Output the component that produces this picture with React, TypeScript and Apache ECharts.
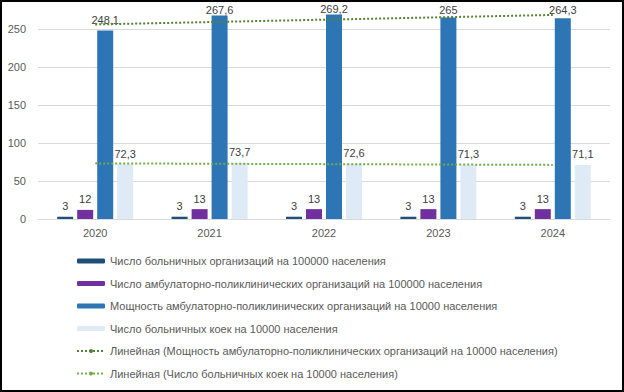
import React, { useEffect, useRef } from "react";
import * as echarts from "echarts";

const years = ["2020", "2021", "2022", "2023", "2024"];
const hospitalOrgs = [3, 3, 3, 3, 3];
const outpatientOrgs = [12, 13, 13, 13, 13];
const outpatientCapacity = [248.1, 267.6, 269.2, 265, 264.3];
const hospitalBeds = [72.3, 73.7, 72.6, 71.3, 71.1];
// trendline endpoints
const capacityTrend: [string, number][] = [["2020", 256], ["2024", 268.5]];
const bedsTrend: [string, number][] = [["2020", 73.2], ["2024", 71.2]];
const yTicks = { min: 0, max: 280, interval: 50 };

const names = [
  "Число больничных организаций на 100000 населения",
  "Число амбулаторно-поликлинических организаций на 100000 населения",
  "Мощность амбулаторно-поликлинических организаций на 10000 населения",
  "Число больничных коек на 10000 населения",
  "Линейная (Мощность амбулаторно-поликлинических организаций на 10000 населения)",
  "Линейная (Число больничных коек на 10000 населения)",
];

const FONT = "Liberation Sans";
const GRID_BOTTOM_Y = 219;
const PX_PER_UNIT = 0.76;

export default function App() {
  const ref = useRef<HTMLDivElement>(null);
  useEffect(() => {
    document.body.style.margin = "0";
    const chart = echarts.init(ref.current!, null, { renderer: "svg" });
    const label = {
      show: true,
      position: "top" as const,
      distance: 5,
      color: "#404040",
      fontSize: 11,
      fontFamily: FONT,
      formatter: (p: any) => String(p.value).replace(".", ","),
    };
    // keep labels inside the chart area as the reference does (labels clamped near the top edge)
    const withClampedLabels = (data: number[]) =>
      data.map((v) => {
        const topPx = GRID_BOTTOM_Y - v * PX_PER_UNIT;
        const distance = Math.max(0, Math.min(5, topPx - 15.5));
        return { value: v, label: { distance } };
      });
    const bar = (name: string, data: any[], color: string) => ({
      name,
      type: "bar",
      data,
      barWidth: 16,
      barGap: "25%",
      itemStyle: { color },
      label,
    });
    const trend = (name: string, data: any[], color: string) => ({
      name,
      type: "line",
      data,
      symbol: "none",
      lineStyle: { type: "dotted", width: 2, color },
      itemStyle: { color },
      z: 5,
    });
    chart.setOption({
      animation: false,
      textStyle: { fontFamily: FONT },
      grid: { left: 38, right: 14, top: 6.2, bottom: 173, containLabel: false },
      xAxis: {
        type: "category",
        data: years,
        axisLine: { show: true, lineStyle: { color: "#D9D9D9" } },
        axisTick: { show: false },
        axisLabel: { color: "#595959", fontSize: 11, fontFamily: FONT, margin: 8 },
      },
      yAxis: {
        type: "value",
        min: yTicks.min,
        max: yTicks.max,
        interval: yTicks.interval,
        axisLine: { show: false },
        axisTick: { show: false },
        axisLabel: {
          color: "#595959",
          fontSize: 11,
          fontFamily: FONT,
          margin: 12,
          showMaxLabel: false,
          formatter: (v: number) => (v % yTicks.interval === 0 ? String(v) : ""),
        },
        splitLine: { showMaxLine: false, lineStyle: { color: "#D9D9D9" } },
      },
      legend: {
        orient: "vertical",
        left: 71,
        top: 249,
        itemWidth: 28,
        itemHeight: 5,
        itemGap: 8.5,
        data: names,
        textStyle: { color: "#595959", fontSize: 11, fontFamily: FONT, lineHeight: 14 },
      },
      series: [
        bar(names[0], hospitalOrgs, "#1F4E79"),
        bar(names[1], outpatientOrgs, "#7030A0"),
        bar(names[2], withClampedLabels(outpatientCapacity), "#2E75B6"),
        bar(names[3], hospitalBeds, "#DEEBF7"),
        trend(names[4], capacityTrend, "#548235"),
        trend(names[5], bedsTrend, "#70AD47"),
      ],
    });
    return () => chart.dispose();
  }, []);
  return (
    <div
      style={{
        position: "fixed",
        left: 0,
        top: 0,
        width: 624,
        height: 392,
        boxSizing: "border-box",
        border: "2px solid #000",
        background: "#fff",
        overflow: "hidden",
      }}
    >
      <div ref={ref} style={{ position: "absolute", left: -2, top: -2, width: 624, height: 392 }} />
    </div>
  );
}
